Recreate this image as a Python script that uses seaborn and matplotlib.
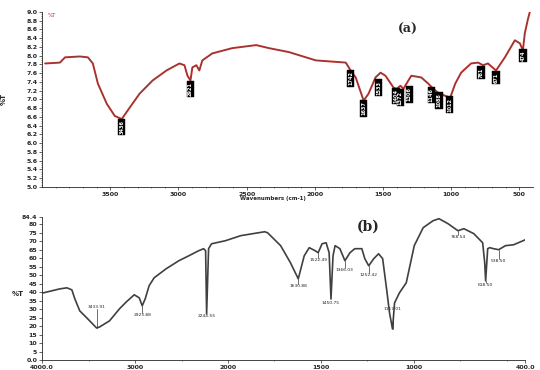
#!/usr/bin/env python3
"""
FTIR spectra, two stacked panels: (a) raw sample, (b) treated sample.
"""

import numpy as np
import pandas as pd
import matplotlib
matplotlib.use("Agg")
import matplotlib.pyplot as plt
import seaborn as sns

# ---- panel (a) spectrum ----
wn_a = [3978, 3869, 3832, 3723, 3664, 3628, 3591, 3526, 3467, 3416, 3358, 3285,
        3190, 3088, 2993, 2956, 2934, 2912, 2898, 2869, 2847, 2825, 2752, 2606,
        2430, 2336, 2190, 1992, 1773, 1737, 1700, 1642, 1606, 1555, 1518, 1482,
        1423, 1401, 1372, 1350, 1314, 1292, 1219, 1168, 1131, 1095, 1044, 1007,
        970, 927, 854, 803, 766, 730, 671, 606, 533, 496, 474, 460, 438, 423]
t_a = [7.82, 7.84, 7.96, 7.98, 7.96, 7.82, 7.36, 6.90, 6.62, 6.55, 6.81, 7.13,
       7.43, 7.66, 7.82, 7.78, 7.54, 7.43, 7.73, 7.78, 7.66, 7.89, 8.05, 8.17,
       8.24, 8.17, 8.08, 7.89, 7.84, 7.66, 7.50, 6.97, 7.13, 7.50, 7.61, 7.54,
       7.27, 7.24, 7.31, 7.24, 7.43, 7.54, 7.50, 7.36, 7.24, 7.15, 7.08, 7.04,
       7.36, 7.61, 7.82, 7.84, 7.78, 7.82, 7.66, 7.96, 8.35, 8.28, 8.12, 8.51,
       8.82, 9.00]

peak_text_a = ["3436", "2921", "1742", "1637", "1533", "1404", "1372", "1306",
               "1146", "1088", "1012", "781", "671", "474"]
peak_wn_a = [3416, 2912, 1737, 1642, 1533, 1404, 1372, 1306, 1146, 1088, 1012,
             781, 671, 474]
peak_top_a = [6.53, 7.40, 7.64, 6.95, 7.43, 7.24, 7.20, 7.27, 7.26, 7.13, 7.04,
              7.73, 7.61, 8.12]

# ---- panel (b) spectrum ----
wn_b = [3989, 3808, 3733, 3680, 3648, 3595, 3520, 3414, 3382, 3275, 3168, 3094,
        3009, 2955, 2923, 2891, 2849, 2795, 2667, 2529, 2422, 2316, 2262, 2241,
        2230, 2209, 2177, 2028, 1931, 1803, 1787, 1717, 1664, 1622, 1590, 1563,
        1531, 1515, 1494, 1472, 1456, 1446, 1435, 1424, 1398, 1371, 1344, 1318,
        1280, 1264, 1243, 1216, 1190, 1168, 1147, 1131, 1115, 1104, 1078, 1041,
        998, 950, 897, 865, 817, 763, 731, 678, 630, 619, 614, 603, 592, 571,
        544, 507, 464, 400]
t_b = [39.6, 42.0, 42.6, 41.4, 36.1, 29.0, 24.9, 18.9, 19.5, 23.1, 30.2, 34.3,
       38.5, 36.7, 32.0, 36.1, 43.8, 48.5, 53.8, 58.6, 61.5, 64.5, 65.7, 64.5,
       27.2, 65.7, 68.6, 70.4, 73.4, 75.7, 75.1, 67.5, 57.4, 47.9, 61.5, 66.3,
       64.5, 63.3, 68.6, 69.2, 63.3, 36.0, 61.5, 67.5, 65.7, 58.6, 63.3, 65.7,
       65.7, 59.8, 55.6, 59.8, 62.7, 59.8, 42.0, 27.8, 18.3, 33.7, 39.6, 45.6,
       67.5, 78.1, 82.2, 83.4, 80.5, 76.3, 77.5, 74.6, 69.2, 57.4, 46.7, 65.7,
       66.3, 65.7, 65.1, 67.5, 68.0, 71.0]

peak_text_b = ["3433.91", "2923.88", "2244.55", "1630.88", "1522.49", "1450.75",
               "1366.03", "1252.42", "1117.01", "768.54", "618.50", "538.50"]
peak_wn_b = [3414, 2923, 2230, 1622, 1515, 1446, 1371, 1243, 1115, 763, 614, 544]
peak_t_b = [18.9, 32.0, 27.2, 47.9, 63.3, 36.0, 58.6, 55.6, 18.3, 76.3, 46.7, 65.1]
label_t_b = [30.0, 27.5, 27.2, 45.0, 60.0, 35.0, 54.5, 51.5, 29.0, 74.0, 45.5, 59.8]

sns.set_style("ticks")
plt.rcParams['font.family'] = ['DejaVu Sans']

fig = plt.figure(figsize=(5.4, 3.7), dpi=100)
ax_a = fig.add_axes([0.078, 0.495, 0.909, 0.473])
ax_b = fig.add_axes([0.078, 0.027, 0.895, 0.3865])

# ---------------- (a) ----------------
df_a = pd.DataFrame({"wn": wn_a, "t": t_a})
sns.lineplot(data=df_a, x="wn", y="t", ax=ax_a, color="#d0302a", linewidth=1.4)
sns.lineplot(data=df_a, x="wn", y="t", ax=ax_a, color="#6e4040", linewidth=0.5)
ax_a.set_xlim(4000, 400)
ax_a.set_ylim(5.0, 9.0)
ax_a.set_xticks([3500, 3000, 2500, 2000, 1500, 1000, 500])
ax_a.set_xticks(np.arange(3900, 400, -100), minor=True)
yt = np.round(np.arange(5.0, 9.01, 0.2), 1)
ax_a.set_yticks(yt)
ax_a.set_yticklabels([f"{v:.1f}" for v in yt])
ax_a.set_yticks(np.arange(5.0, 9.0, 0.05), minor=True)
ax_a.tick_params(axis="both", which="major", labelsize=4.5, length=2, width=0.5, pad=1.5)
ax_a.tick_params(axis="both", which="minor", length=1, width=0.4)
for lab in ax_a.get_xticklabels() + ax_a.get_yticklabels():
    lab.set_fontweight("bold")
ax_a.set_xlabel("Wavenumbers (cm-1)", fontsize=4, fontweight="bold", labelpad=1)
ax_a.xaxis.set_label_coords(0.47, -0.05)
ax_a.set_ylabel("%T", fontsize=5, fontweight="bold", labelpad=14)
ax_a.text(0.012, 0.995, "%T", transform=ax_a.transAxes, fontsize=4,
          color="#d0302a", va="top", ha="left")
ax_a.text(0.745, 0.9, "(a)", transform=ax_a.transAxes, fontsize=9,
          fontweight="bold", family="DejaVu Serif", ha="center", va="center")
for txt, w, top in zip(peak_text_a, peak_wn_a, peak_top_a):
    ax_a.text(w, top, txt, rotation=90, fontsize=3.6, color="white",
              fontweight="bold", ha="center", va="top",
              bbox=dict(boxstyle="square,pad=0.25", fc="black", ec="black", lw=0.3))
for s in ["top", "right"]:
    ax_a.spines[s].set_visible(False)
for s in ["left", "bottom"]:
    ax_a.spines[s].set_linewidth(0.6)

# ---------------- (b) ----------------
def fwd(x):
    x = np.asarray(x, dtype=float)
    return np.where(x >= 2000, x, 2 * x - 2000)


def inv(y):
    y = np.asarray(y, dtype=float)
    return np.where(y >= 2000, y, (y + 2000) / 2)


ax_b.set_xscale("function", functions=(fwd, inv))
df_b = pd.DataFrame({"wn": wn_b, "t": t_b})
sns.lineplot(data=df_b, x="wn", y="t", ax=ax_b, color="#404040", linewidth=1.2)
ax_b.set_xlim(4000, 400)
ax_b.set_ylim(0, 84.4)
ax_b.set_xticks([4000, 3000, 2000, 1500, 1000, 400])
ax_b.set_xticklabels(["4000.0", "3000", "2000", "1500", "1000", "400.0"])
ax_b.set_xticks([3500, 2500, 1750, 1250, 750, 500], minor=True)
ax_b.xaxis.set_minor_formatter(plt.NullFormatter())
ybt = list(range(0, 85, 5)) + [84.4]
ax_b.set_yticks(ybt)
ax_b.set_yticklabels(["0.0"] + [str(v) for v in range(5, 85, 5)] + ["84.4"])
ax_b.tick_params(axis="both", which="major", labelsize=4.5, length=2, width=0.5, pad=1.5)
ax_b.tick_params(axis="both", which="minor", length=1, width=0.4)
for lab in ax_b.get_xticklabels() + ax_b.get_yticklabels():
    lab.set_fontweight("bold")
ax_b.set_xlabel("")
ax_b.set_ylabel("%T", fontsize=5, fontweight="bold", rotation=0, labelpad=10)
ax_b.yaxis.set_label_coords(-0.05, 0.44)
ax_b.text(0.675, 0.93, "(b)", transform=ax_b.transAxes, fontsize=10,
          fontweight="bold", family="DejaVu Serif", ha="center", va="center")
for txt, w, tp, tl in zip(peak_text_b, peak_wn_b, peak_t_b, label_t_b):
    if abs(tp - tl) > 1:
        ax_b.plot([w, w], [tp, tl], color="#333333", lw=0.5)
    va = "bottom" if tl > tp else "top"
    ax_b.text(w, tl, txt, fontsize=3.2, color="#222222", ha="center", va=va)
for s in ["top", "right"]:
    ax_b.spines[s].set_visible(False)
for s in ["left", "bottom"]:
    ax_b.spines[s].set_linewidth(0.6)

fig.savefig("out.png", dpi=100, facecolor="white")
